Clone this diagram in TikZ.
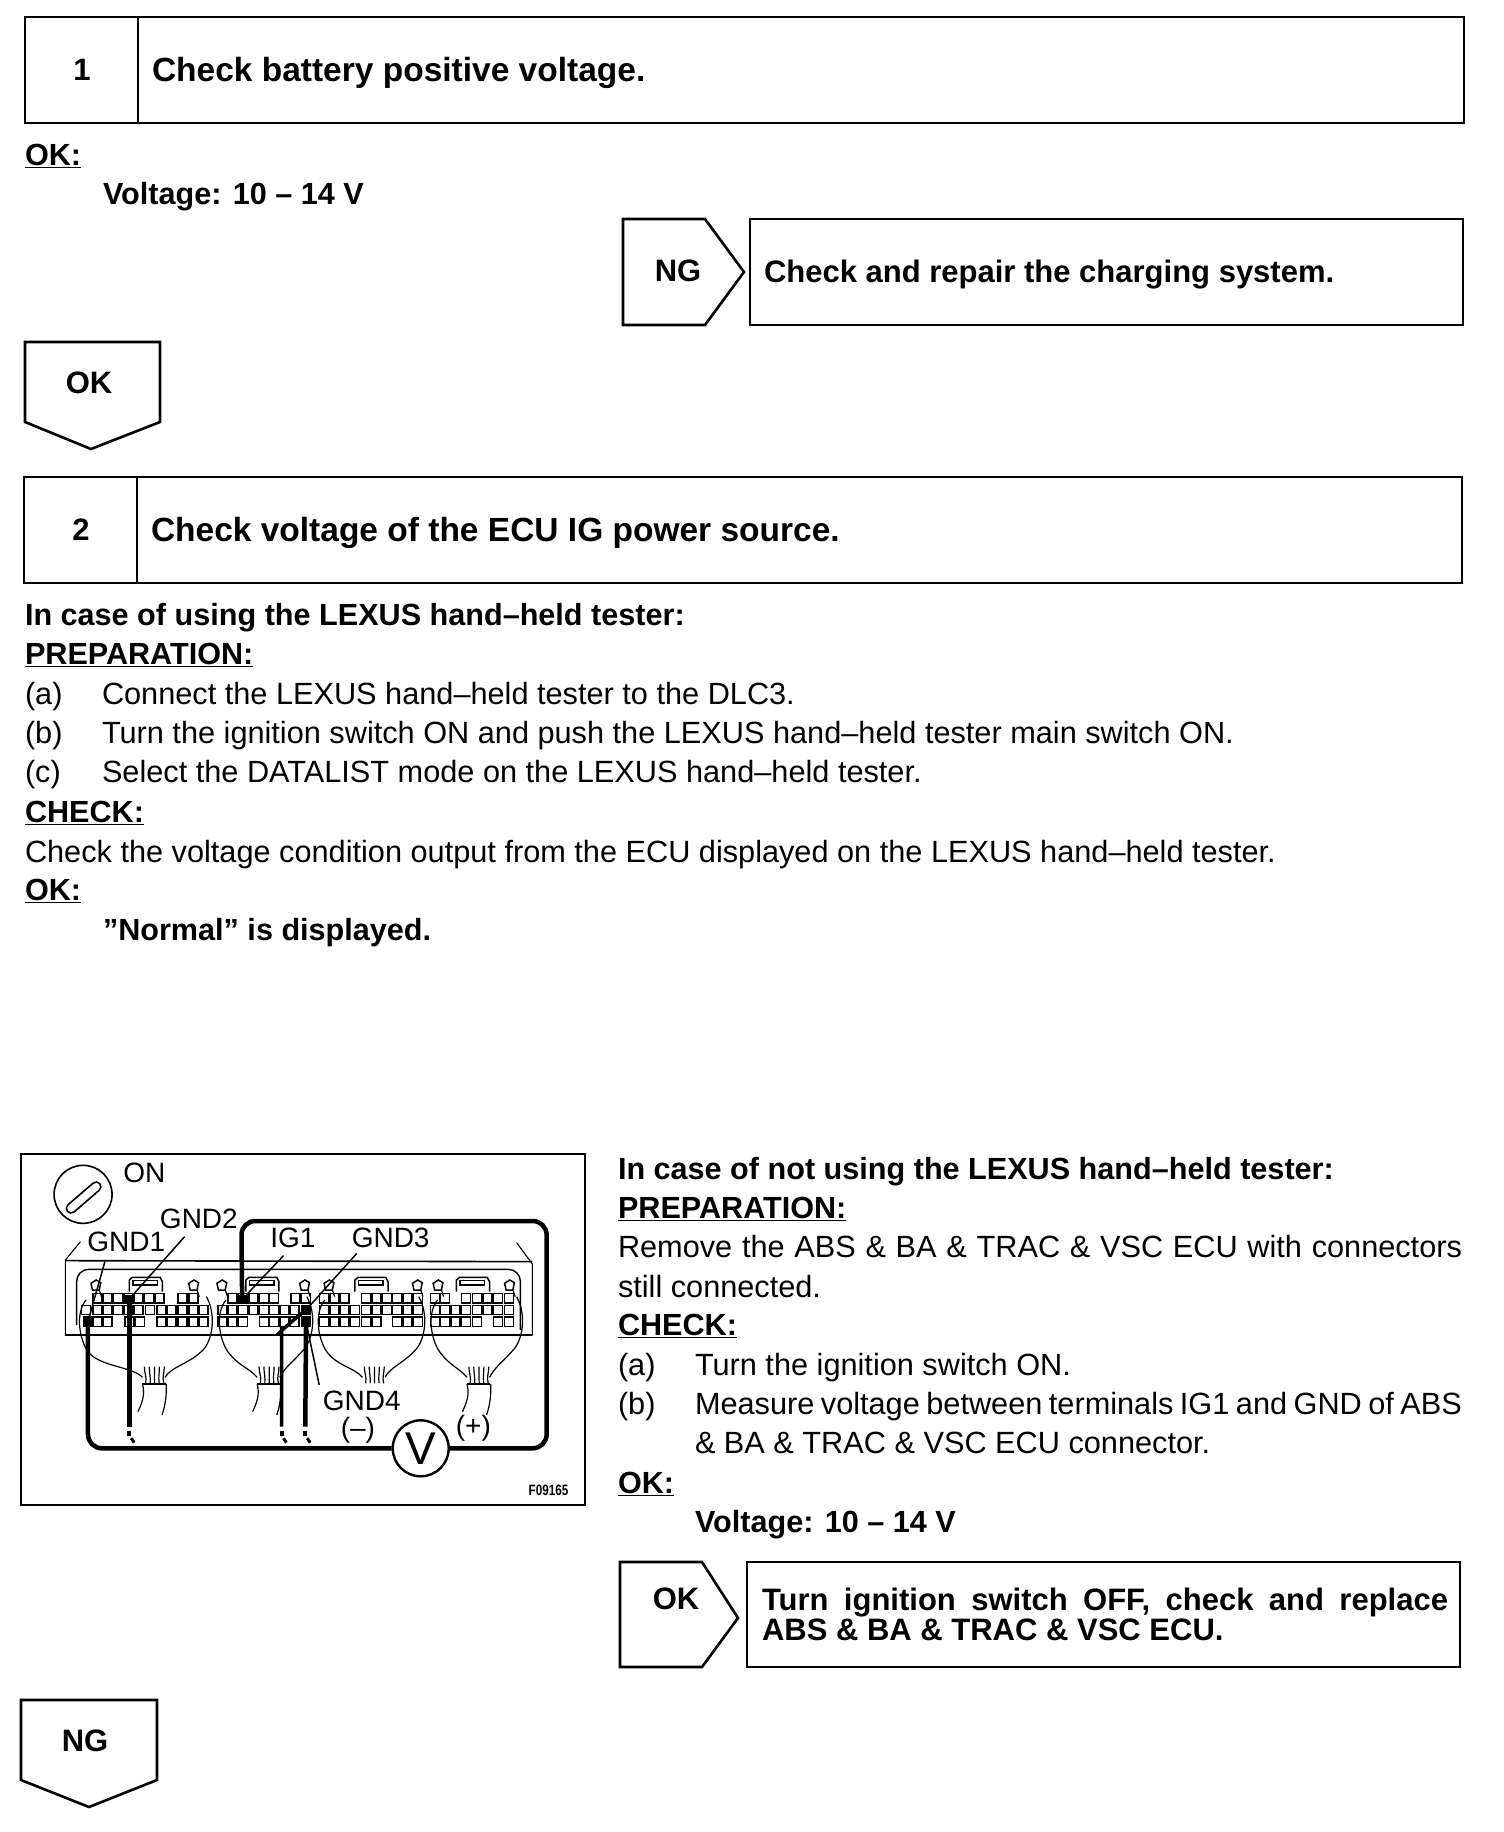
\documentclass[tikz,border=0pt]{standalone}
\usepackage{fontspec}
\usepackage{graphicx}
\setmainfont{Liberation Sans}
\newcommand{\bodyf}{\fontsize{30.7}{34}\selectfont}
\newcommand{\headf}{\fontsize{31}{34}\selectfont\bfseries}
\newcommand{\headbigf}{\fontsize{33.5}{36}\selectfont\bfseries}
\newcommand{\boldf}{\fontsize{30.6}{34}\selectfont\bfseries}
\newcommand{\lblf}{\fontsize{28}{32}\selectfont}
\tikzset{
  frame/.style={draw=black,line width=2.6pt,line join=miter,fill=white},
  txt/.style={anchor=base west,inner sep=0pt,outer sep=0pt,text=black,font=\bodyf},
  btxt/.style={txt,font=\boldf},
  htxt/.style={txt,font=\headf},
  hbig/.style={txt,font=\headbigf},
  ctr/.style={anchor=center,inner sep=0pt,text=black,font=\headf},
  lbl/.style={anchor=center,inner sep=0pt,text=black,font=\lblf},
  thin wire/.style={draw=black,line width=1pt},
  leader/.style={draw=black,line width=1.5pt},
  probe/.style={draw=black,line width=4.5pt,rounded corners=14pt},
  cellbox/.style={draw=black,line width=1.6pt},
  pinmark/.style={fill=black,minimum width=9pt,minimum height=9pt,inner sep=0pt,outer sep=0pt},
  meter/.style={circle,draw=black,line width=2.4pt,fill=white,minimum size=56pt,inner sep=0pt}
}
\begin{document}
\begin{tikzpicture}[x=1pt,y=-1pt]
\useasboundingbox[fill=white] (0,0) rectangle (1504,1832);
% Step 1
\draw[frame] (25,17) rectangle (1464,123);
\draw[frame] (138,17) -- (138,123);
\node[ctr] (n1) at (82,70) {1};
\node[hbig] (t1) at (152,81) {Check battery positive voltage.};
\node[btxt] (ok1) at (25,165) {\underline{OK:}};
\node[btxt] (v1) at (103,204) {Voltage: 10 – 14 V};
\draw[frame] (623,219) -- (705,219) -- (744,272) -- (705,325) -- (623,325) -- cycle;
\draw[frame] (750,219) rectangle (1463,325);
\node[ctr] (ng1) at (678,271) {NG};
\node[htxt] (t2) at (764,282) {Check and repair the charging system.};
\draw[frame] (25,342) -- (160,342) -- (160,422) -- (91,449) -- (25,422) -- cycle;
\node[ctr] (ok2) at (89,383) {OK};
% Step 2
\draw[frame] (24,477) rectangle (1462,583);
\draw[frame] (137,477) -- (137,583);
\node[ctr] (n2) at (81,530) {2};
\node[hbig] (t3) at (151,541) {Check voltage of the ECU IG power source.};
\node[btxt] (a1) at (25,625) {In case of using the LEXUS hand–held tester:};
\node[btxt] (a2) at (25,664) {\underline{PREPARATION:}};
\node[txt] (a3l) at (25,704) {(a)};
\node[txt] (a3) at (102,704) {Connect the LEXUS hand–held tester to the DLC3.};
\node[txt] (a4l) at (25,743) {(b)};
\node[txt] (a4) at (102,743) {Turn the ignition switch ON and push the LEXUS hand–held tester main switch ON.};
\node[txt] (a5l) at (25,782) {(c)};
\node[txt] (a5) at (102,782) {Select the DATALIST mode on the LEXUS hand–held tester.};
\node[btxt] (a6) at (25,822) {\underline{CHECK:}};
\node[txt] (a7) at (25,862) {Check the voltage condition output from the ECU displayed on the LEXUS hand–held tester.};
\node[btxt] (a8) at (25,900) {\underline{OK:}};
\node[btxt] (a9) at (103,940) {”Normal” is displayed.};
% Right column
\node[btxt] (b1) at (618,1179) {In case of not using the LEXUS hand–held tester:};
\node[btxt] (b2) at (618,1218) {\underline{PREPARATION:}};
\node[txt] (b3) at (618,1257) {\makebox[844pt][s]{Remove the ABS \& BA \& TRAC \& VSC ECU with connectors}};
\node[txt] (b4) at (618,1297) {still connected.};
\node[btxt] (b5) at (618,1335) {\underline{CHECK:}};
\node[txt] (b6l) at (618,1375) {(a)};
\node[txt] (b6) at (695,1375) {Turn the ignition switch ON.};
\node[txt] (b7l) at (618,1414) {(b)};
\node[txt] (b7) at (695,1414) {\makebox[767pt][s]{Measure voltage between terminals IG1 and GND of ABS}};
\node[txt] (b8) at (695,1453) {\& BA \& TRAC \& VSC ECU connector.};
\node[btxt] (b9) at (618,1493) {\underline{OK:}};
\node[btxt] (b10) at (695,1532) {Voltage: 10 – 14 V};
\draw[frame] (620,1562) -- (702,1562) -- (738,1618) -- (702,1667) -- (620,1667) -- cycle;
\draw[frame] (747,1562) rectangle (1460,1667);
\node[ctr] (ok3) at (676,1599) {OK};
\node[htxt] (t4) at (762,1610) {\makebox[686pt][s]{Turn ignition switch OFF, check and replace}};
\node[htxt] (t5) at (762,1640) {ABS \& BA \& TRAC \& VSC ECU.};
\draw[frame] (21,1700) -- (157,1700) -- (157,1780) -- (89,1807) -- (21,1780) -- cycle;
\node[ctr] (ng2) at (85,1741) {NG};
% Figure
\begin{scope}[shift={(9pt,-1140pt)},x=0.376pt,y=-0.3333pt]
\draw[draw=black,line width=2.2pt] (32,42) rectangle (1532,1095);
% switch
\draw[line width=1.6pt] (197,163) circle (29pt);
\draw[line cap=round,line width=11pt] (165,205) -- (232,140);
\draw[line cap=round,line width=7.5pt,white] (165,205) -- (232,140);
% housing
\draw[line width=1.1pt] (190,305) -- (150,360) -- (150,585) -- (1392,585) -- (1392,372) -- (1350,308);
\draw[line width=1.6pt] (150,362) -- (1392,365);
\draw[line width=1.4pt,rounded corners=12pt] (180,555) -- (180,388) -- (1360,388) -- (1360,570);
\draw[line width=1.4pt] (150,585) -- (1392,585);
% latches
\foreach \lx in {320,630,920,1190}{
  \draw[line width=1.5pt] (\lx,455) -- (\lx,420) -- ({\lx+8},412) -- ({\lx+82},412) -- ({\lx+88},425) -- ({\lx+88},455);
  \draw[line width=1.5pt] ({\lx+10},422) -- ({\lx+10},435) -- ({\lx+75},435) -- ({\lx+75},422) -- cycle;
}
% clips
\foreach \cx in {230,490,565,785,850,1085,1140,1330}{
  \draw[line width=1.5pt] ({\cx-12},430) -- ({\cx+2},420) -- ({\cx+14},428) -- ({\cx+10},450) -- ({\cx-8},450) -- cycle;
  \draw[line width=1.2pt] ({\cx+10},450) -- ({\cx+16},470);
}
% cells
\foreach \x in {235,262,290,318,345,372,400,462,490,595,622,650,678,705,762,790,838,865,892,950,978,1005,1032,1060,1088,1133,1160,1215,1245,1272,1300,1330}
  \draw[cellbox] ({\x-12},461) rectangle ({\x+12},489);
\foreach \x in {205,235,262,290,318,345,375,405,432,462,490,518,568,595,622,650,678,705,733,760,790,838,865,892,920,950,978,1005,1032,1060,1088,1133,1160,1188,1215,1245,1272,1300,1330}
  \draw[cellbox] ({\x-12},496) rectangle ({\x+12},524);
\foreach \x in {210,235,262,320,348,405,432,462,490,518,568,595,622,678,705,733,760,790,838,865,892,920,950,978,1032,1060,1088,1133,1160,1188,1215,1245,1300,1330}
  \draw[cellbox] ({\x-12},531) rectangle ({\x+12},559);
% harness bundles
\foreach \bx/\lo/\hi in {385/180/545,690/552/812,970/815/1110,1248/1115/1370}{
  \draw[thin wire,line width=1.2pt] ({\bx-30},712) .. controls ({\bx-55},680) and ({\lo+60},680) .. ({\lo+30},635) .. controls ({\lo+8},600) and ({\lo-5},520) .. ({\lo+25},480);
  \draw[thin wire,line width=1.2pt] ({\bx+30},712) .. controls ({\bx+45},680) and ({\hi-60},670) .. ({\hi-25},625) .. controls ({\hi-2},590) and ({\hi+5},520) .. ({\hi-20},470);
  \foreach \d/\e in {-18/-25,-8/-12,2/2,12/15,22/28}
    \draw[thin wire,line width=1.2pt] ({\bx+\d*1.2},730) .. controls ({\bx+\d},710) and ({\bx+\e},700) .. ({\bx+\e},680);
}
% cable sleeves (the third bundle has none)
\foreach \bx in {385,690,1248}{
  \draw[line width=1.4pt] ({\bx-30},732) -- ({\bx+32},732);
  \draw[thin wire,line width=1.2pt] ({\bx-30},732) .. controls ({\bx-22},765) and ({\bx-32},790) .. ({\bx-42},815);
  \draw[thin wire,line width=1.2pt] ({\bx+33},732) .. controls ({\bx+35},765) and ({\bx+30},800) .. ({\bx+22},825);
}
% probes / pins
\node[pinmark] (p1) at (210,545) {};
\node[pinmark] (p2) at (320,477) {};
\node[pinmark] (p3) at (620,478) {};
\node[pinmark] (p4) at (790,510) {};
\node[pinmark] (p5) at (790,545) {};
\node[meter] (vm) at (1095,925) {};
\node[inner sep=0pt,font=\fontsize{46}{50}\selectfont] (vt) at (vm.center) {V};
\coordinate (e2) at (320,860);
\coordinate (e3) at (725,860);
\coordinate (e5) at (788,860);
\draw[probe] (p1.center) -- (210,925) -- (vm.west);
\draw[probe] (p3.center) -- (618,243) -- (1430,243) -- (1430,925) -- (vm.east);
\draw[probe,rounded corners=0pt] (p2.center) -- (e2);
\draw[probe,line width=3.4pt] (p4.center) -- (740,555) to[out=225,in=90] (725,600) -- (e3);
\draw[probe,rounded corners=0pt] (p5.center) -- (e5);
\foreach \ex in {320,725,788}{
  \draw[line width=4pt] (\ex,872) -- (\ex,888);
  \draw[line width=3pt] ({\ex+5},895) -- ({\ex+13},908);
}
% labels
\node[lbl] (lon) at (360,100) {ON};
\node[lbl] (lg1) at (312,305) {GND1};
\node[lbl] (lg2) at (505,238) {GND2};
\node[lbl] (li) at (755,295) {IG1};
\node[lbl] (lg3) at (1015,293) {GND3};
\node[lbl] (lg4) at (938,782) {GND4};
\node[lbl] (lm) at (928,870) {(–)};
\node[lbl] (lp) at (1235,865) {(+)};
\node[anchor=center,inner sep=0pt,font=\fontsize{15}{18}\selectfont\bfseries] (code) at (1435,1052) {\scalebox{0.78}[1]{F09165}};
\draw[leader] (255,365) -- (p1);
\draw[leader] (467,290) -- (p2);
\draw[leader] (730,347) -- (p3);
\draw[leader] (925,340) -- (p4);
\draw[leader] (825,735) -- (p5);
\end{scope}
\end{tikzpicture}
\end{document}
